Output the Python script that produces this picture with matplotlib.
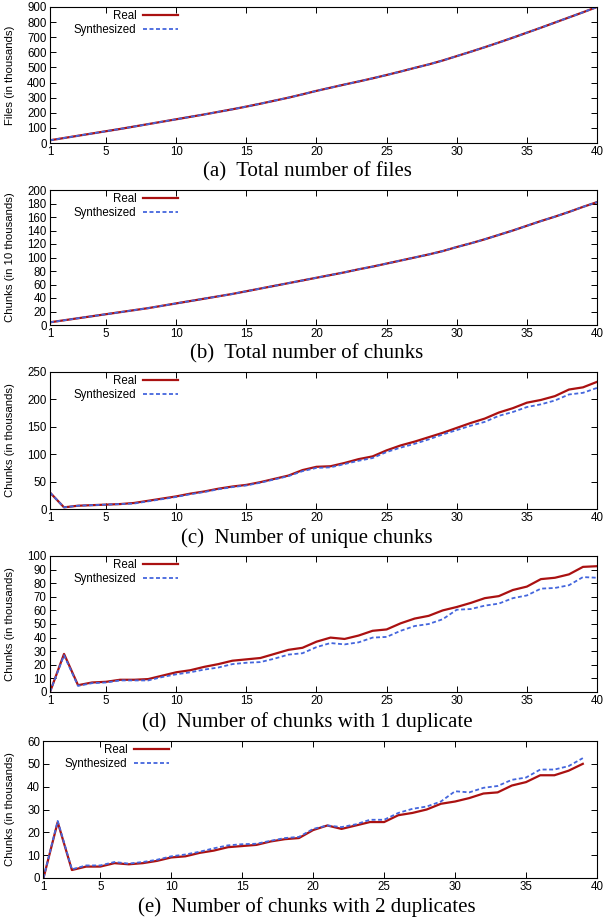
import numpy as np
import matplotlib.pyplot as plt

plt.rcParams['font.family'] = ['Liberation Sans', 'DejaVu Sans']

# Valori per giorno (1..40)
giorni = np.arange(1, 41)
giorni_e = np.arange(1, 40)

files_real = [18, 33, 48, 63, 78, 93, 109, 125, 141, 157, 173, 189, 206, 223, 241, 260, 280, 300, 322, 345,
              366, 387, 407, 428, 450, 473, 497, 520, 546, 575, 604, 634, 665, 697, 730, 763, 797, 831, 865, 900]
files_synth = [18, 33, 48, 63, 78, 93, 109, 125, 141, 157, 173, 189, 206, 223, 241, 260, 280, 300, 322, 345,
               366, 387, 407, 428, 450, 473, 497, 520, 546, 575, 604, 634, 665, 697, 730, 763, 797, 831, 865, 900]

chunks_real = [4, 7, 10, 13, 16, 19, 22, 25, 28.5, 32, 35.5, 39, 42.5, 46, 50, 54, 58, 62, 66, 70,
               74, 78, 82.5, 86.5, 91, 95.5, 100, 104.5, 109.5, 115.5, 121, 127, 133.5, 140, 147, 154, 160.5, 167.5, 175, 182]
chunks_synth = [4, 7, 10, 13, 16, 19, 22, 25, 28.5, 32, 35.5, 39, 42.5, 46, 50, 54, 58, 62, 66, 70,
                74, 78, 82.5, 86.5, 91, 95.5, 100, 104.5, 109.5, 115.5, 121, 127, 133.5, 140, 147, 154, 160.5, 167.5, 175, 182]

unique_real = [30, 3, 6, 7, 8, 9, 11, 15, 19, 23, 28, 32, 37, 41, 44, 49, 55, 61, 71, 77,
               78, 84, 91, 96, 107, 116, 123, 131, 139, 148, 157, 165, 176, 184, 194, 199, 206, 218, 222, 232]
unique_synth = [30, 3, 6, 7, 8, 9, 10, 14, 18, 22, 27, 31, 36, 40, 43, 48, 54, 60, 69, 75,
                76, 82, 88, 93, 104, 112, 119, 127, 136, 144, 152, 159, 170, 177, 186, 191, 198, 209, 212, 221]

dup1_real = [0, 28, 5, 7, 7.5, 9, 9, 9.5, 12, 14.5, 16, 18.5, 20.5, 23, 24, 25, 28, 31, 32.5, 37,
             40, 39, 41.5, 45, 46, 50.5, 54, 56, 60, 62.5, 65.5, 69, 70.5, 75, 77.5, 83, 84, 86.5, 92, 92.5]
dup1_synth = [0, 27, 4.5, 6.5, 7, 8.5, 8.5, 8.5, 11, 13, 14.5, 16.5, 18, 20.5, 21.5, 22, 24.5, 27.5, 28.5, 33,
              36, 35, 36.5, 40, 40.5, 45, 48.5, 50, 53.5, 60.5, 61, 63.5, 65, 69, 71, 76, 76.5, 78.5, 84.5, 84]

dup2_real = [0, 24.5, 3.5, 5, 5, 6.5, 6, 6.5, 7.5, 9, 9.5, 11, 12, 13.5, 14, 14.5, 16, 17, 17.5, 21,
             23, 21.5, 23, 24.5, 24.5, 27.5, 28.5, 30, 32.5, 33.5, 35, 37, 37.5, 40.5, 42, 45, 45, 47, 50]
dup2_synth = [0, 25, 3.8, 5.5, 5.5, 7, 6.3, 7, 8, 9.5, 10.3, 11.5, 13, 14.3, 14.8, 15, 16.3, 17.5, 18, 21.5,
              23, 22.3, 23.5, 25.5, 25.5, 28.5, 30.3, 31.3, 33.5, 38, 37.5, 39.5, 40.3, 43, 44, 47.5, 47.5, 49, 52.5]

xticks = [1, 5, 10, 15, 20, 25, 30, 35, 40]

pannelli = [
    (giorni, files_real, files_synth, 900, 100, 'Files (in thousands)', '(a)  Total number of files'),
    (giorni, chunks_real, chunks_synth, 200, 20, 'Chunks (in 10 thousands)', '(b)  Total number of chunks'),
    (giorni, unique_real, unique_synth, 250, 50, 'Chunks (in thousands)', '(c)  Number of unique chunks'),
    (giorni, dup1_real, dup1_synth, 100, 10, 'Chunks (in thousands)', '(d)  Number of chunks with 1 duplicate'),
    (giorni_e, dup2_real, dup2_synth, 60, 10, 'Chunks (in thousands)', '(e)  Number of chunks with 2 duplicates'),
]

# posizioni in pixel: (sinistra, alto, basso, y didascalia)
W, H = 604, 919
layout = [(50, 7, 143, 172), (50, 190, 325, 354), (50, 372, 509, 538),
          (50, 556, 692, 722), (43.5, 741, 878, 907)]
destra = 597

fig = plt.figure(figsize=(W / 100, H / 100), dpi=100)

for (x, real, synth, ymax, ystep, ylab, titolo), (sx, top, bot, cy) in zip(pannelli, layout):
    ax = fig.add_axes([sx / W, 1 - bot / H, (destra - sx) / W, (bot - top) / H])
    ax.plot(x, real, color='#aa1111', lw=1.6, label='Real')
    ax.plot(x, synth, color='#4466dd', lw=1.3, ls=(0, (2.2, 1.4)), label='Synthesized')
    ax.set_xlim(1, 40)
    ax.set_ylim(0, ymax)
    ax.set_xticks(xticks)
    ax.set_yticks(np.arange(0, ymax + 1, ystep))
    ax.tick_params(direction='in', top=True, right=True, length=4, width=0.7,
                   labelsize=8.3, pad=2.5)
    for s in ax.spines.values():
        s.set_linewidth(0.8)
    ax.set_ylabel(ylab, fontsize=8.2, labelpad=1)
    ax.yaxis.set_label_coords((15 - sx) / (destra - sx), 0.5)
    anc = (178 - sx) / (destra - sx) if sx > 45 else (169 - sx) / (destra - sx)
    ax.legend(loc='upper right', bbox_to_anchor=(anc, 0.98), frameon=False, markerfirst=False,
              fontsize=8.3, handlelength=3.0, handletextpad=0.6, labelspacing=0.2,
              borderpad=0, borderaxespad=0)
    fig.text(307 / W, 1 - cy / H, titolo, ha='center', va='center',
             family='Liberation Serif', fontsize=15)

plt.savefig('out.png', dpi=100)
